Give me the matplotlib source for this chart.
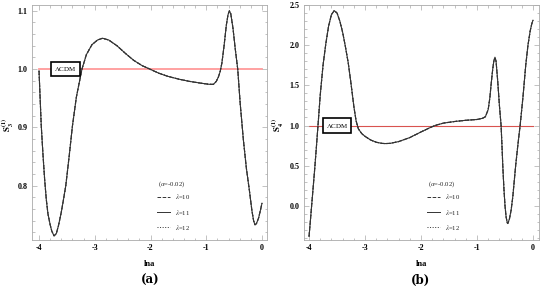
import matplotlib
matplotlib.use("Agg")
import matplotlib.pyplot as plt
from matplotlib.ticker import MultipleLocator, FormatStrFormatter

# ---------------- data ----------------
lna_a = [-4.00, -3.98, -3.96, -3.93, -3.90, -3.87, -3.84, -3.80, -3.77, -3.73,
         -3.69, -3.65, -3.60, -3.56, -3.52, -3.46, -3.40, -3.33, -3.23, -3.15,
         -3.05, -2.95, -2.86, -2.75, -2.60, -2.45, -2.30, -2.15, -2.01, -1.85,
         -1.70, -1.50, -1.30, -1.10, -0.95, -0.87, -0.82, -0.78, -0.75, -0.72,
         -0.68, -0.64, -0.61, -0.585, -0.56, -0.52, -0.48, -0.435, -0.39, -0.335,
         -0.28, -0.23, -0.18, -0.15, -0.125, -0.10, -0.06, -0.03, 0.00]
S3 = [0.997, 0.950, 0.903, 0.855, 0.812, 0.777, 0.752, 0.733, 0.722, 0.714,
      0.718, 0.732, 0.755, 0.777, 0.800, 0.850, 0.903, 0.952, 1.000, 1.025,
      1.042, 1.050, 1.053, 1.050, 1.040, 1.027, 1.015, 1.006, 1.000, 0.993,
      0.988, 0.983, 0.979, 0.976, 0.974, 0.974, 0.979, 0.987, 0.996, 1.010,
      1.040, 1.075, 1.093, 1.100, 1.095, 1.070, 1.035, 1.000, 0.940, 0.880,
      0.830, 0.795, 0.757, 0.740, 0.733, 0.735, 0.745, 0.757, 0.770]

lna_b = [-4.00, -3.98, -3.96, -3.93, -3.90, -3.87, -3.84, -3.80, -3.75, -3.70,
         -3.65, -3.60, -3.55, -3.50, -3.45, -3.40, -3.35, -3.30, -3.25, -3.20,
         -3.16, -3.12, -3.06, -3.00, -2.90, -2.80, -2.70, -2.64, -2.55, -2.40,
         -2.20, -2.00, -1.85, -1.75, -1.60, -1.40, -1.20, -1.00, -0.90, -0.85,
         -0.80, -0.77, -0.75, -0.72, -0.70, -0.68, -0.66, -0.63, -0.60, -0.57,
         -0.55, -0.54, -0.52, -0.50, -0.48, -0.46, -0.45, -0.42, -0.39, -0.36,
         -0.31, -0.27, -0.23, -0.18, -0.13, -0.09, -0.05, -0.02, 0.00]
S4 = [-0.38, -0.22, -0.05, 0.20, 0.45, 0.72, 1.00, 1.38, 1.75, 2.02,
      2.24, 2.38, 2.43, 2.40, 2.30, 2.16, 1.98, 1.78, 1.52, 1.24,
      1.06, 0.96, 0.90, 0.865, 0.82, 0.792, 0.778, 0.775, 0.778, 0.80,
      0.85, 0.92, 0.97, 1.00, 1.03, 1.05, 1.065, 1.075, 1.09, 1.11,
      1.20, 1.35, 1.50, 1.70, 1.80, 1.85, 1.80, 1.55, 1.25, 1.00,
      0.68, 0.50, 0.22, 0.00, -0.14, -0.21, -0.22, -0.16, -0.05, 0.12,
      0.50, 0.76, 1.00, 1.35, 1.75, 2.00, 2.18, 2.27, 2.31]

lcdm_value = 1.0
alpha_label = r"($\alpha$=-0.02)"
lambdas = ["10", "11", "12"]
styles = ["--", "-", ":"]

plt.rcParams["font.family"] = ["Liberation Serif", "DejaVu Serif"]
plt.rcParams["mathtext.fontset"] = "stix"

fig = plt.figure(figsize=(5.5, 2.89), dpi=100)
W, H = 550, 289

def make_ax(x0, y0, w, h):
    return fig.add_axes([x0 / W, 1 - (y0 + h) / H, w / W, h / H])

ax1 = make_ax(32, 5, 235, 235)
ax2 = make_ax(304, 5, 235, 235)

curve_col = "#333333"

def style_axes(ax, ymaj, ymin, fmt):
    for s in ax.spines.values():
        s.set_color("#aaaaaa")
        s.set_linewidth(0.6)
    ax.xaxis.set_major_locator(MultipleLocator(1))
    ax.xaxis.set_minor_locator(MultipleLocator(0.2))
    ax.yaxis.set_major_locator(MultipleLocator(ymaj))
    ax.yaxis.set_minor_locator(MultipleLocator(ymin))
    ax.yaxis.set_major_formatter(FormatStrFormatter(fmt))
    ax.xaxis.set_major_formatter(FormatStrFormatter("%d"))
    ax.tick_params(which="both", direction="in", top=True, right=True,
                   color="#aaaaaa", width=0.5)
    ax.tick_params(which="major", length=3.5, labelsize=5.8, pad=3)
    ax.tick_params(which="minor", length=1.8)
    for lab in ax.get_xticklabels() + ax.get_yticklabels():
        lab.set_fontweight("bold")
    ax.set_xlabel("lna", fontsize=6, fontweight="bold", labelpad=6)

def draw_legend(ax, xl, xt):
    ax.text(xl + 0.005, 0.238, alpha_label, transform=ax.transAxes,
            fontsize=4.8, va="center", ha="left", color="#222222")
    ys = [0.183, 0.119, 0.055]
    for lam, ls, yy in zip(lambdas, styles, ys):
        ax.plot([xl, xl + 0.055], [yy, yy], ls, color=curve_col, lw=0.7,
                transform=ax.transAxes)
        ax.text(xt, yy, r"$\lambda$=" + lam, transform=ax.transAxes,
                fontsize=4.8, va="center", ha="left", color="#222222")

# panel (a)
for lam, ls in zip(lambdas, styles):
    ax1.plot(lna_a, S3, ls, color=curve_col, lw=0.8)
ax1.plot([-4, 0], [lcdm_value, lcdm_value], color="#ff9a9a", lw=1.3, zorder=1)
ax1.set_xlim(-4.126, 0.09)
ax1.set_ylim(0.707, 1.110)
style_axes(ax1, 0.1, 0.02, "%.1f")
ax1.text(-3.53, lcdm_value, r"$\Lambda$CDM", fontsize=5, ha="center", va="center",
         bbox=dict(boxstyle="square,pad=0.45", fc="white", ec="black", lw=1.2))
draw_legend(ax1, 0.532, 0.609)

# panel (b)
for lam, ls in zip(lambdas, styles):
    ax2.plot(lna_b, S4, ls, color=curve_col, lw=0.8)
ax2.plot([-4, 0], [lcdm_value, lcdm_value], color="#d9534f", lw=0.8, zorder=1)
ax2.set_xlim(-4.09, 0.107)
ax2.set_ylim(-0.425, 2.5)
style_axes(ax2, 0.5, 0.1, "%.1f")
ax2.text(-3.5, lcdm_value, r"$\Lambda$CDM", fontsize=5, ha="center", va="center",
         bbox=dict(boxstyle="square,pad=0.45", fc="white", ec="black", lw=1.2))
draw_legend(ax2, 0.523, 0.60)

# y labels
fig.text(8.5 / W, 1 - 125 / H, r"$\mathbf{S_3^{(1)}}$", rotation=90,
         fontsize=6.3, ha="center", va="center")
fig.text(278.5 / W, 1 - 125 / H, r"$\mathbf{S_4^{(1)}}$", rotation=90,
         fontsize=6.3, ha="center", va="center")

# panel captions
fig.text(150 / W, 1 - 280 / H, "(a)", fontsize=8.5, fontweight="bold",
         ha="center", va="center", family=["DejaVu Serif"])
fig.text(421 / W, 1 - 280 / H, "(b)", fontsize=8.5, fontweight="bold",
         ha="center", va="center", family=["DejaVu Serif"])

fig.savefig("out.png", dpi=100)
